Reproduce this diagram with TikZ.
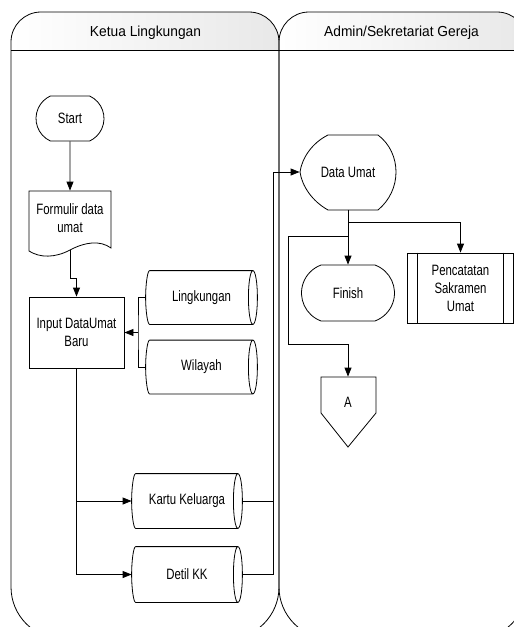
\documentclass[tikz,border=0pt]{standalone}
\usepackage{fontspec}
\setmainfont{Liberation Sans}
\newfontfamily\nodefont{Liberation Sans}[FakeStretch=0.76]
\newfontfamily\headfont{Liberation Sans}[FakeStretch=0.95]
\usetikzlibrary{arrows.meta,shapes.geometric,shapes.misc,calc}
\newcommand\storeoutline[1]{%
  \draw let \p1=(#1.north west), \p2=(#1.south east), \n1={(\y1-\y2)/2} in
   ({\x1+4pt},\y1) -- ({\x2-4.5pt},\y1)
   ({\x2-4.5pt},\y2) -- ({\x1+4pt},\y2)
   .. controls ({\x1+1.8pt},\y2) and (\x1,{\y2+0.552*\n1}) .. (\x1,{\y2+\n1})
   .. controls (\x1,{\y1-0.552*\n1}) and ({\x1+1.8pt},\y1) .. ({\x1+4pt},\y1)
   ({\x2-4.5pt},{\y2+\n1}) ellipse [x radius=4.5pt, y radius=\n1];%
}
\begin{document}
\begin{tikzpicture}[x=1pt,y=-1pt,
  line width=0.8pt,
  base/.style={font=\nodefont\fontsize{15}{18}\selectfont, align=center, inner sep=0pt},
  headtxt/.style={font=\headfont\fontsize{14.5}{17}\selectfont, inner sep=0pt, anchor=base},
  arr/.style={-{Triangle[length=9pt,width=7pt]}},
  term/.style={base, draw, rounded rectangle, rounded rectangle arc length=130},
  proc/.style={base, draw, rectangle},
  store/.style={base, rectangle},
  plain/.style={base, rectangle},
]
\useasboundingbox (0,0) rectangle (514,627);
\clip (0,0) rectangle (514,627);

% lane headers shading
\shade[left color=white, right color=gray!18] (11,50) -- (11,42) .. controls (11,25.4) and (24.4,12) .. (41,12) -- (249,12) .. controls (265.6,12) and (279,25.4) .. (279,42) -- (279,50) -- cycle;
\shade[left color=white, right color=gray!18] (279,50) -- (279,42) .. controls (279,25.4) and (292.4,12) .. (309,12) -- (497,12) .. controls (513.6,12) and (527,25.4) .. (527,42) -- (527,50) -- cycle;

% lanes
\draw (11,587) -- (11,42) .. controls (11,25.4) and (24.4,12) .. (41,12) -- (249,12) .. controls (265.6,12) and (279,25.4) .. (279,42) -- (279,587) .. controls (279,615.7) and (255.7,639) .. (227,639) -- (63,639) .. controls (34.3,639) and (11,615.7) .. (11,587) -- cycle;
\draw (11,50) -- (279,50);
\draw (279,587) -- (279,42) .. controls (279,25.4) and (292.4,12) .. (309,12) -- (497,12) .. controls (513.6,12) and (527,25.4) .. (527,42) -- (527,587) .. controls (527,615.7) and (503.7,639) .. (475,639) -- (331,639) .. controls (302.3,639) and (279,615.7) .. (279,587) -- cycle;
\draw (279,50) -- (527,50);

\node[headtxt] (h1) at (145.5,36) {Ketua Lingkungan};
\node[headtxt] (h2) at (401.5,36) {Admin/Sekretariat Gereja};

% nodes
\node[term, minimum width=68pt, minimum height=45pt] (start) at (70,118.5) {Start};

\node[plain, minimum width=82pt, minimum height=54pt] (form) at (70,218) {Formulir data\\umat};
\draw (29,191) -- (111,191) -- (111,248) .. controls (100,240) and (85,242) .. (70,250) .. controls (55,258) and (40,258) .. (29,251) -- cycle;

\node[proc, minimum width=95pt, minimum height=71pt] (input) at (76.5,332.5) {Input DataUmat\\Baru};

\node[store, minimum width=111pt, minimum height=53pt] (ling) at (201.5,297.5) {Lingkungan};
\node[store, minimum width=111pt, minimum height=53pt] (wil) at (201.5,367) {Wilayah};
\node[store, minimum width=110pt, minimum height=54pt] (kartu) at (187,501) {Kartu Keluarga};
\node[store, minimum width=110pt, minimum height=55pt] (detil) at (187,574.5) {Detil KK};
\storeoutline{ling}
\storeoutline{wil}
\storeoutline{kartu}
\storeoutline{detil}

\node[plain, minimum width=96pt, minimum height=75pt] (du) at (348,172) {Data Umat};
\draw (328,135) -- (378,135) .. controls (390,144) and (396,158) .. (396,172) .. controls (396,186) and (390,200) .. (378,210) -- (328,210) .. controls (312,201) and (302,186) .. (300,172) .. controls (302,158) and (312,143) .. (328,135) -- cycle;

\node[term, rounded rectangle arc length=140, minimum width=93pt, minimum height=56pt] (fin) at (348,293) {Finish};

\node[proc, minimum width=106pt, minimum height=70pt] (pen) at (460.5,288) {Pencatatan\\Sakramen\\Umat};
\draw ([xshift=10.5pt]pen.north west) -- ([xshift=10.5pt]pen.south west);
\draw ([xshift=-10.5pt]pen.north east) -- ([xshift=-10.5pt]pen.south east);

\node[plain, minimum width=55pt, minimum height=50pt] (A) at (348,402) {A};
\draw (321,377) -- (376,377) -- (376,413) -- (348,447) -- (321,413) -- cycle;

% connectors
\draw[arr] (start) -- (form.north);
\coordinate (fb) at (70,250);
\coordinate (e1) at (70,278);
\draw[arr] (fb) -- (e1) -| (input.north);
\coordinate (j1) at (138,332.5);
\draw (ling.west) -| (j1) |- (wil.west);
\draw[arr] (j1) -- (input.east);
\draw[arr] (input.south) |- (kartu.west);
\draw[arr] (input.south) |- (detil.west);
\coordinate (v1) at (273,172);
\draw (kartu.east) -- (kartu.east -| v1);
\draw[arr] (detil.east) -| (v1) -- (du.west);
\draw[arr] (du.south) -- (fin.north);
\coordinate (b1) at (348,222);
\coordinate (b2) at (348,236);
\draw[arr] (b1) -| (pen.north);
\coordinate (c1) at (288,236);
\coordinate (c2) at (288,344);
\draw[arr] (b2) -- (c1) -- (c2) -| (A.north);
\end{tikzpicture}
\end{document}
